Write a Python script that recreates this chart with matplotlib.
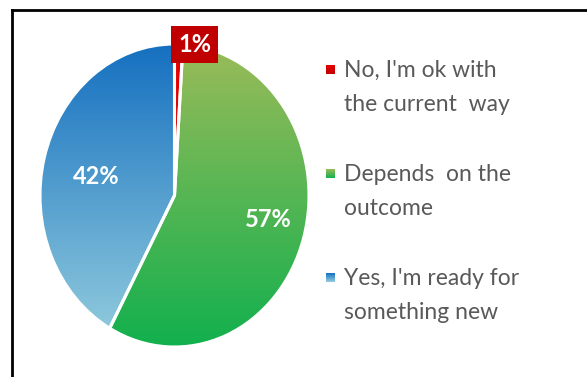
import numpy as np
import matplotlib
matplotlib.use("Agg")
import matplotlib.pyplot as plt
from matplotlib.colors import LinearSegmentedColormap
from matplotlib.lines import Line2D

labels = ["No, I'm ok with\nthe current  way",
          "Depends  on the\noutcome",
          "Yes, I'm ready for\nsomething new"]
values = [1, 57, 42]
# top colour, bottom colour of each gradient fill
grad_colors = [("#E80000", "#C00000"),
               ("#9BBB59", "#12B04E"),
               ("#1570C0", "#95CEDE")]

W, H = 587, 377
fig = plt.figure(figsize=(W / 100, H / 100), dpi=100)
plt.rcParams["font.family"] = ["Lato", "DejaVu Sans"]

def fx(px):
    return px / W

def fy(py):
    return 1 - py / H

# pie axes (slightly taller than wide, as drawn)
ax = fig.add_axes([fx(40), fy(347), fx(309) - fx(40), fy(44) - fy(347)])
wedges, _ = ax.pie(values, startangle=90, counterclock=False, radius=1,
                   wedgeprops=dict(edgecolor="white", linewidth=2.2))
ax.set_aspect("auto")
ax.set_xlim(-1, 1)
ax.set_ylim(-1, 1)

grad = np.linspace(1, 0, 256).reshape(-1, 1)
for w, (c_top, c_bot) in zip(wedges, grad_colors):
    cmap = LinearSegmentedColormap.from_list("g", [c_bot, c_top])
    im = ax.imshow(grad, cmap=cmap, extent=[-1, 1, -1, 1], aspect="auto",
                   origin="upper", zorder=w.get_zorder() - 0.1, vmin=0, vmax=1)
    im.set_clip_path(w)
    w.set_facecolor("none")

# percentage labels
pct = [f"{v}%" for v in values]
ax.text(-0.58, 0.125, pct[2], color="white", fontsize=17, fontweight="bold",
        ha="center", va="center")
ax.text(0.70, -0.16, pct[1], color="white", fontsize=17, fontweight="bold",
        ha="center", va="center")
ax.text(0.149, 0.997, pct[0], color="white", fontsize=17, fontweight="bold",
        ha="center", va="center", clip_on=False,
        bbox=dict(boxstyle="square,pad=0.3", fc="#C00000", ec="none"))

# legend drawn by hand: gradient squares plus two-line labels
leg = fig.add_axes([0, 0, 1, 1], facecolor="none")
leg.set_xlim(0, W)
leg.set_ylim(H, 0)
leg.axis("off")
item_y = [70, 174, 278]
for lab, (c_top, c_bot), y in zip(labels, grad_colors, item_y):
    cmap = LinearSegmentedColormap.from_list("g", [c_bot, c_top])
    leg.imshow(grad, cmap=cmap, extent=[326, 335, y + 4.5, y - 4.5],
               aspect="auto", origin="upper", vmin=0, vmax=1)
    leg.text(344, y - 10, lab, color="#595959", fontsize=16.5, ha="left",
             va="top", linespacing=1.75)
leg.set_xlim(0, W)
leg.set_ylim(H, 0)

# chart border (runs off the right and bottom edges)
fig.add_artist(Line2D([fx(12), fx(12)], [fy(10), 0], color="black", lw=2))
fig.add_artist(Line2D([fx(12), 1], [fy(10), fy(10)], color="black", lw=2))

fig.savefig("out.png", dpi=100)
